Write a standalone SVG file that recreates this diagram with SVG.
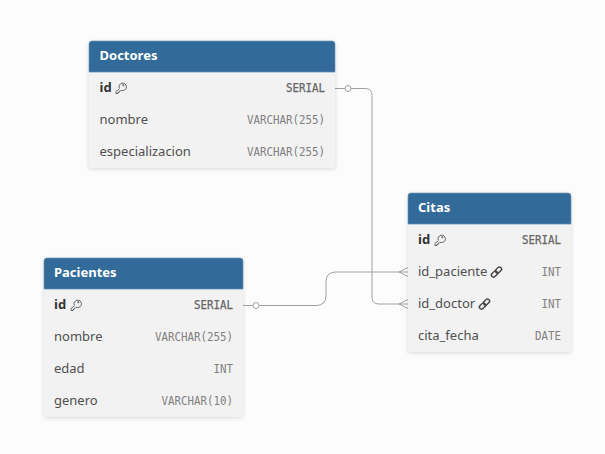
<svg xmlns="http://www.w3.org/2000/svg" width="605" height="454" viewBox="0 0 605 454">
<style>
.card{fill:#f2f2f2;filter:url(#sh)}
.head{fill:#326a99;stroke:#6d94b6;stroke-width:0.6}
.hl{stroke:#b9cde0;stroke-width:1;fill:none}
.title{font:700 13px "Noto Sans",sans-serif;fill:#fff}
.name{font:400 13px "Noto Sans",sans-serif;fill:#505050}
.pk{font:700 13px "Noto Sans",sans-serif;fill:#333}
.type{font:400 12px "DejaVu Sans Mono",monospace;fill:#808080;text-anchor:end}
.tb{fill:#666;stroke:#666;stroke-width:0.25}
.conn{fill:none;stroke:#a0a0a4;stroke-width:1}
.dot{fill:#fbfbfb;stroke:#a0a0a4;stroke-width:1}
.ico{fill:none;stroke:#555;stroke-width:0.9}
.lnk{fill:none;stroke:#444;stroke-width:1.4}
</style>
<defs>
<filter id="sh" x="-10%" y="-10%" width="120%" height="125%"><feDropShadow dx="0" dy="1" stdDeviation="2" flood-color="#000" flood-opacity="0.14"/></filter>
<g id="key"><path class="ico" d="M4.300 6.200A3.700 3.700 0 1 1 7.300 8.500L6 8.300L5.200 9.300H4.100V10.500H3V11.500H1V9.500L4.500 6.700"/><circle cx="8.300" cy="3.200" r="0.700" class="ico"/></g>
<g id="link"><rect class="lnk" x="4" y="1.500" width="7" height="4.200" rx="2.100" transform="rotate(-45 7.500 3.600)"/><rect class="lnk" x="0" y="5.500" width="7" height="4.200" rx="2.100" transform="rotate(-45 3.500 7.600)"/></g>
</defs>
<rect width="605" height="454" fill="#fcfcfc"/>
<g id="connectors">
<path class="conn" d="M335 88.500H365Q372 88.500 372 95.500V297Q372 304 379 304H408"/>
<path class="conn" d="M243 305.500H316Q326 305.500 326 295.500V282Q326 272 336 272H408"/>
<circle class="dot" cx="348" cy="88.500" r="3"/>
<circle class="dot" cx="256" cy="305.500" r="3"/>
<path class="conn" d="M408 267.500L399 272L408 276.500M408 299.500L399 304L408 308.500"/>
</g>
<g id="doctores">
<rect class="card" x="89" y="41" width="246" height="127" rx="3"/>
<path class="head" d="M89 72V44a3 3 0 0 1 3-3h240a3 3 0 0 1 3 3V72z"/>
<path class="hl" d="M89 72.500H335"/>
<text class="title" x="99.500" y="60">Doctores</text>
<text class="pk" x="99.500" y="92">id</text><use href="#key" x="115" y="82"/>
<text class="type tb" x="325" y="92" textLength="39" lengthAdjust="spacingAndGlyphs">SERIAL</text>
<text class="name" x="99.500" y="124">nombre</text>
<text class="type" x="325" y="124" textLength="78" lengthAdjust="spacingAndGlyphs">VARCHAR(255)</text>
<text class="name" x="99.500" y="156">especializacion</text>
<text class="type" x="325" y="156" textLength="78" lengthAdjust="spacingAndGlyphs">VARCHAR(255)</text>
</g>
<g id="citas">
<rect class="card" x="408" y="193" width="163" height="159" rx="3"/>
<path class="head" d="M408 224V196a3 3 0 0 1 3-3h157a3 3 0 0 1 3 3V224z"/>
<path class="hl" d="M408 224.500H571"/>
<text class="title" x="418" y="212">Citas</text>
<text class="pk" x="418" y="244">id</text><use href="#key" x="434" y="234"/>
<text class="type tb" x="561" y="244" textLength="39" lengthAdjust="spacingAndGlyphs">SERIAL</text>
<text class="name" x="418" y="276">id_paciente</text><use href="#link" x="491" y="266.500"/>
<text class="type" x="561" y="276" textLength="19.500" lengthAdjust="spacingAndGlyphs">INT</text>
<text class="name" x="418" y="308">id_doctor</text><use href="#link" x="479" y="298.500"/>
<text class="type" x="561" y="308" textLength="19.500" lengthAdjust="spacingAndGlyphs">INT</text>
<text class="name" x="418" y="340">cita_fecha</text>
<text class="type" x="561" y="340" textLength="26" lengthAdjust="spacingAndGlyphs">DATE</text>
</g>
<g id="pacientes">
<rect class="card" x="44" y="258" width="199" height="159" rx="3"/>
<path class="head" d="M44 289V261a3 3 0 0 1 3-3h193a3 3 0 0 1 3 3V289z"/>
<path class="hl" d="M44 289.500H243"/>
<text class="title" x="54" y="277">Pacientes</text>
<text class="pk" x="54" y="309">id</text><use href="#key" x="70" y="299"/>
<text class="type tb" x="233" y="309" textLength="39" lengthAdjust="spacingAndGlyphs">SERIAL</text>
<text class="name" x="54" y="341">nombre</text>
<text class="type" x="233" y="341" textLength="78" lengthAdjust="spacingAndGlyphs">VARCHAR(255)</text>
<text class="name" x="54" y="373">edad</text>
<text class="type" x="233" y="373" textLength="19.500" lengthAdjust="spacingAndGlyphs">INT</text>
<text class="name" x="54" y="405">genero</text>
<text class="type" x="233" y="405" textLength="71.500" lengthAdjust="spacingAndGlyphs">VARCHAR(10)</text>
</g>
</svg>
